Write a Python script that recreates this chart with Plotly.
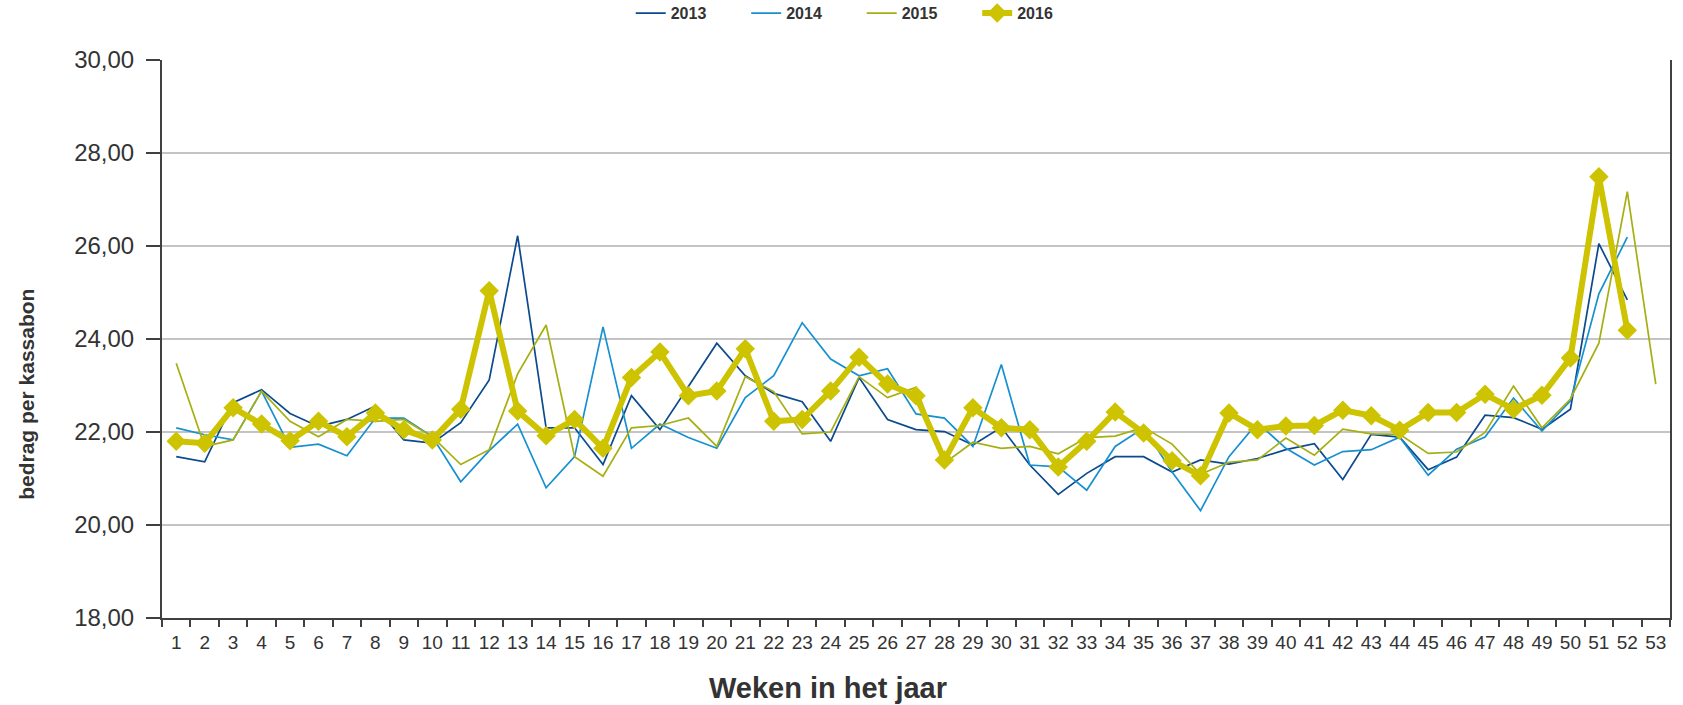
import plotly.graph_objects as go

weeks = [str(i) for i in range(1, 54)]

y2013 = [21.47, 21.36, 22.63, 22.91, 22.40, 22.12, 22.27, 22.56, 21.83, 21.76,
         22.20, 23.12, 26.22, 22.09, 22.09, 21.30, 22.78, 22.05, 22.98, 23.91,
         23.21, 22.83, 22.65, 21.80, 23.17, 22.27, 22.05, 22.01, 21.72, 22.10,
         21.29, 20.66, 21.11, 21.47, 21.47, 21.14, 21.40, 21.31, 21.43, 21.62,
         21.75, 20.98, 21.95, 21.89, 21.19, 21.46, 22.36, 22.31, 22.06, 22.49,
         26.05, 24.84, None]

y2014 = [22.09, 21.94, 21.83, 22.88, 21.67, 21.74, 21.49, 22.30, 22.30, 21.90,
         20.93, 21.60, 22.17, 20.80, 21.47, 24.26, 21.65, 22.17, 21.88, 21.65,
         22.74, 23.21, 24.35, 23.57, 23.21, 23.36, 22.39, 22.30, 21.69, 23.45,
         21.29, 21.25, 20.75, 21.69, 22.09, 21.14, 20.31, 21.47, 22.20, 21.65,
         21.29, 21.58, 21.62, 21.89, 21.07, 21.63, 21.89, 22.73, 22.02, 22.67,
         24.97, 26.19, None]

y2015 = [23.48, 21.69, 21.83, 22.88, 22.23, 21.90, 22.27, 22.23, 22.27, 21.90,
         21.30, 21.62, 23.25, 24.30, 21.47, 21.05, 22.09, 22.14, 22.30, 21.69,
         23.19, 22.87, 21.96, 22.00, 23.19, 22.74, 22.96, 21.33, 21.78, 21.65,
         21.69, 21.53, 21.88, 21.91, 22.10, 21.74, 21.09, 21.35, 21.40, 21.87,
         21.50, 22.06, 21.96, 21.95, 21.54, 21.57, 21.99, 22.99, 22.09, 22.71,
         23.91, 27.17, 23.03]

y2016 = [21.80, 21.76, 22.52, 22.17, 21.81, 22.23, 21.90, 22.41, 22.05, 21.83,
         22.49, 25.04, 22.45, 21.92, 22.27, 21.65, 23.17, 23.72, 22.78, 22.88,
         23.79, 22.23, 22.27, 22.88, 23.61, 23.03, 22.78, 21.40, 22.52, 22.09,
         22.05, 21.25, 21.80, 22.43, 21.98, 21.38, 21.06, 22.41, 22.05, 22.13,
         22.14, 22.47, 22.35, 22.04, 22.42, 22.42, 22.81, 22.49, 22.79, 23.59,
         27.49, 24.19, None]

series_names = ["2013", "2014", "2015", "2016"]
colors = ["#0B4A8F", "#1690D0", "#A6AF12", "#CDC300"]

FONT = "Liberation Sans, Arial, sans-serif"
TXT = "#333333"

fig = go.Figure()
for name, ys, col in zip(series_names[:3], [y2013, y2014, y2015], colors[:3]):
    fig.add_trace(go.Scatter(x=weeks, y=ys, name=name, mode="lines",
                             line=dict(color=col, width=1.7)))
fig.add_trace(go.Scatter(x=weeks, y=y2016, name="2016", mode="lines+markers",
                         line=dict(color=colors[3], width=6),
                         marker=dict(symbol="diamond", size=15, color=colors[3])))

fig.update_layout(
    width=1683, height=705,
    margin=dict(l=162, r=13, t=60, b=87, autoexpand=False),
    paper_bgcolor="white", plot_bgcolor="white",
    separators=",.",
    font=dict(family=FONT, color=TXT),
    showlegend=True,
    legend=dict(orientation="h", x=0.464, xanchor="center", y=1.084, yanchor="middle",
                font=dict(size=16, color=TXT, family=FONT, weight="bold"),
                entrywidth=70.5, entrywidthmode="pixels", traceorder="normal",
                bgcolor="rgba(0,0,0,0)"),
    xaxis=dict(type="category", range=[-0.5, 52.5], tickson="boundaries",
               ticks="outside", ticklen=7, tickwidth=1.5, tickangle=0,
               tickcolor="#404040", showline=True, linecolor="#404040", linewidth=2,
               showgrid=False, tickfont=dict(size=19, color=TXT, family=FONT),
               ticklabelstandoff=6),
    yaxis=dict(range=[18, 30], dtick=2, tickformat=".2f", ticks="outside", ticklen=14,
               tickwidth=1.5, tickcolor="#404040", showline=True, linecolor="#404040",
               linewidth=2, mirror=True, showgrid=True, gridcolor="#C4C4C4", gridwidth=2,
               zeroline=False, tickfont=dict(size=24, color=TXT, family=FONT),
               ticklabelstandoff=7),
    annotations=[
        dict(text="<b>Weken in het jaar</b>", xref="paper", yref="paper",
             x=(828 - 161.7) / 1508.3, y=(618 - 688) / 558, xanchor="center", yanchor="middle",
             showarrow=False, font=dict(size=29, color=TXT, family=FONT)),
        dict(text="<b>bedrag per kassabon</b>", xref="paper", yref="paper",
             x=(25.5 - 161.7) / 1508.3, y=(618 - 394) / 558, xanchor="center", yanchor="middle",
             textangle=-90, showarrow=False, font=dict(size=21, color=TXT, family=FONT)),
    ],
)

fig.write_html("out.html", config={"displayModeBar": False},
               post_script="document.body.style.margin='0';")
